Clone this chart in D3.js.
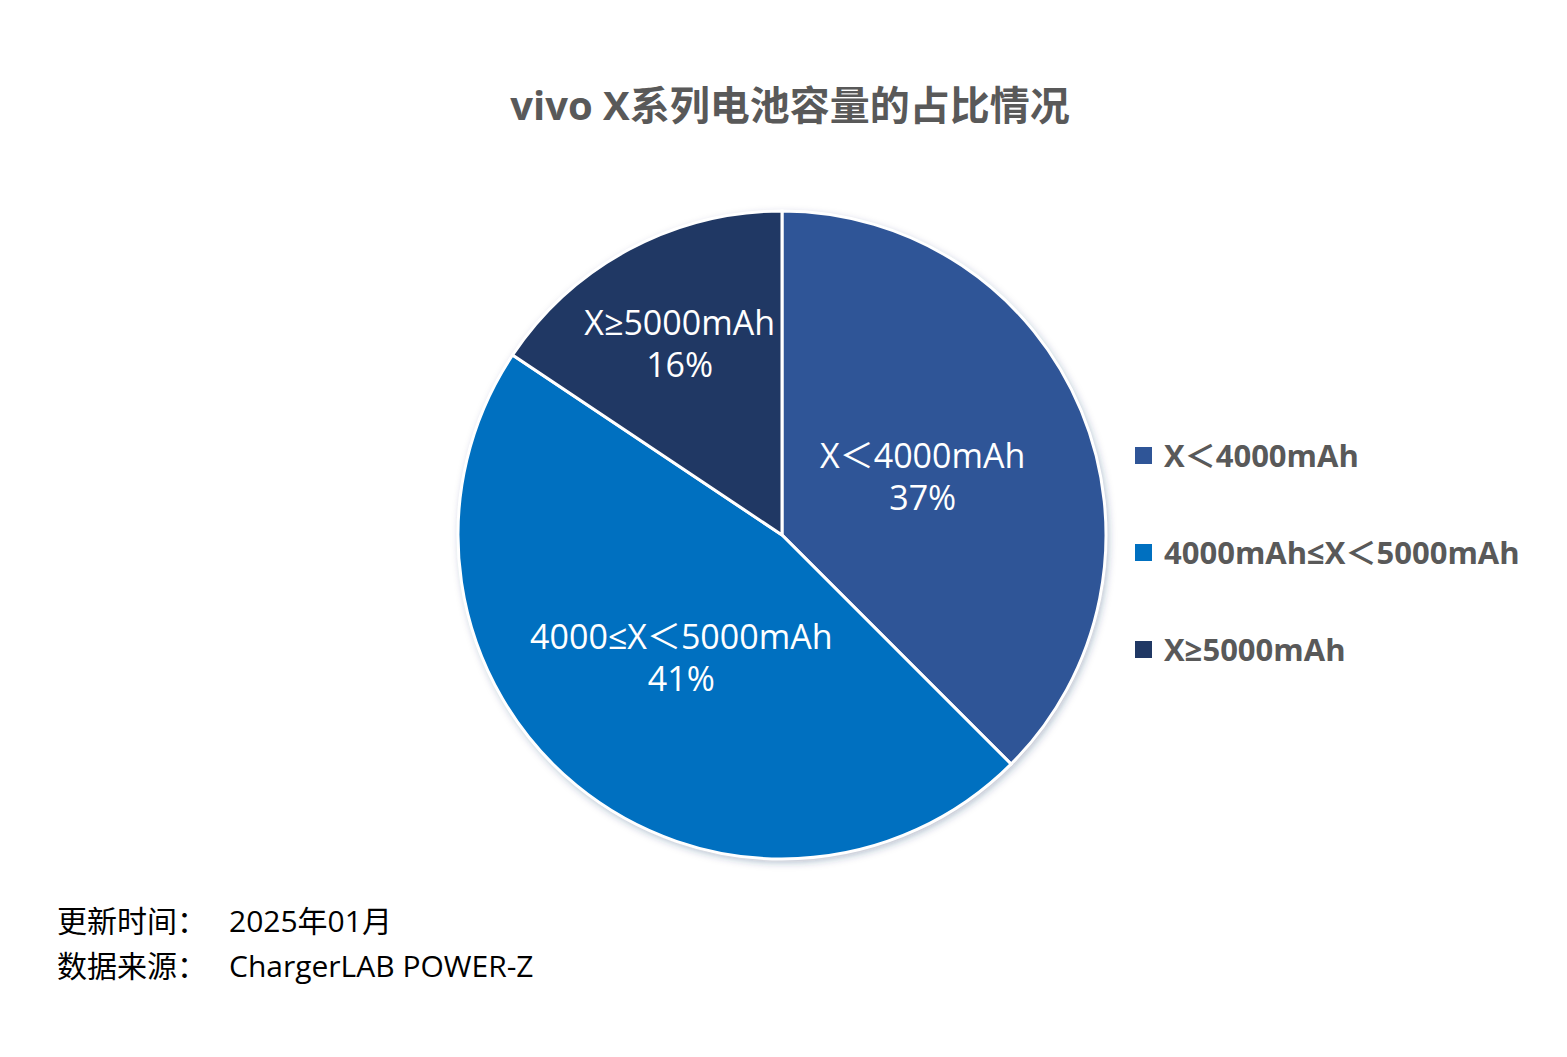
<!DOCTYPE html>
<html><head><meta charset="utf-8">
<script src="https://cdn.jsdelivr.net/npm/d3@7"></script>
<style>body{margin:0;background:#fff}</style>
</head><body>
<svg id="c" width="1567" height="1057"></svg>
<script>
var categories = ["X＜4000mAh", "4000mAh≤X＜5000mAh", "X≥5000mAh"];
var sliceLabels = ["X＜4000mAh", "4000≤X＜5000mAh", "X≥5000mAh"];
var counts = [12, 15, 5];
var pctLabels = ["37%", "41%", "16%"];
var colors = ["#2F5597", "#0070C0", "#203864"];

var font = "'Open Sans','Noto Sans CJK SC',sans-serif";
var svg = d3.select("#c");
var cx = 782, cy = 535, r = 324;
var labelR = [0.47, 0.49, 0.67];

svg.append("text").attr("x", 790).attr("y", 120).attr("text-anchor", "middle")
  .attr("font-family", font).attr("font-weight", "bold").attr("font-size", 40)
  .attr("fill", "#595959").text("vivo X系列电池容量的占比情况");

var defs = svg.append("defs");
var f = defs.append("filter").attr("id", "sh").attr("x", "-20%").attr("y", "-20%").attr("width", "140%").attr("height", "140%");
f.append("feDropShadow").attr("dx", 2).attr("dy", 3).attr("stdDeviation", 4).attr("flood-color", "#203864").attr("flood-opacity", 0.35);

var pie = d3.pie().sort(null)(counts);
var arc = d3.arc().innerRadius(0).outerRadius(r);
var g = svg.append("g").attr("transform", "translate(" + cx + "," + cy + ")");
g.append("circle").attr("r", r).attr("fill", "#fff").attr("filter", "url(#sh)");
g.selectAll("path").data(pie).enter().append("path")
  .attr("d", arc).attr("fill", function(d, i){ return colors[i]; })
  .attr("stroke", "#fff").attr("stroke-width", 3);

g.selectAll("text.lbl").data(pie).enter().append("text")
  .attr("class", "lbl")
  .attr("transform", function(d, i){
    var a = (d.startAngle + d.endAngle) / 2, rr = r * labelR[i];
    return "translate(" + (Math.sin(a) * rr) + "," + (-Math.cos(a) * rr) + ")";
  })
  .attr("text-anchor", "middle").attr("font-family", font).attr("font-size", 34).attr("fill", "#fff")
  .each(function(d, i){
    var t = d3.select(this);
    t.append("tspan").attr("x", 0).attr("y", -9).text(sliceLabels[i]);
    t.append("tspan").attr("x", 0).attr("y", 33).text(pctLabels[i]);
  });

var lg = svg.append("g").selectAll("g").data(categories).enter().append("g")
  .attr("transform", function(d, i){ return "translate(1135," + (456 + i * 97) + ")"; });
lg.append("rect").attr("x", 0).attr("y", -9).attr("width", 17).attr("height", 17)
  .attr("fill", function(d, i){ return colors[i]; });
lg.append("text").attr("x", 29).attr("y", 11).attr("font-family", font).attr("font-weight", "bold")
  .attr("font-size", 31).attr("fill", "#595959").text(function(d){ return d; });

var foot = [["更新时间：", "2025年01月"], ["数据来源：", "ChargerLAB POWER-Z"]];
foot.forEach(function(p, i){
  var y = 932 + i * 45;
  svg.append("text").attr("x", 57).attr("y", y).attr("font-family", font).attr("font-size", 30).text(p[0]);
  svg.append("text").attr("x", 229).attr("y", y).attr("font-family", font).attr("font-size", 30).text(p[1]);
});
</script>
</body></html>
